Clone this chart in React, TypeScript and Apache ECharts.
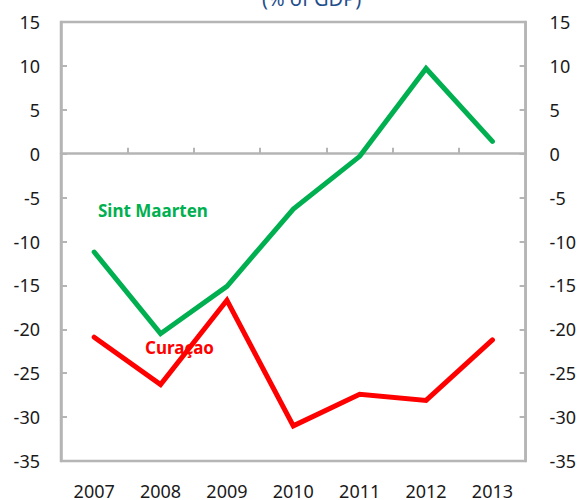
import React, { useEffect, useRef } from "react";
import * as echarts from "echarts";

const years = ["2007", "2008", "2009", "2010", "2011", "2012", "2013"];
const sintMaarten = [-11.2, -20.5, -15.1, -6.3, -0.3, 9.7, 1.4];
const curacao = [-20.9, -26.3, -16.7, -31.0, -27.4, -28.1, -21.2];
const yMin = -35;
const yMax = 15;
const yStep = 5;

const FONT = "'Noto Sans', 'Open Sans', sans-serif";
const GRAY = "#b5b5b5";

export default function App() {
  const ref = useRef<HTMLDivElement>(null);
  useEffect(() => {
    if (!ref.current) return;
    const chart = echarts.init(ref.current, undefined, { renderer: "svg" });
    const yAxisCommon = {
      type: "value",
      min: yMin,
      max: yMax,
      interval: yStep,
      axisLine: { show: true, lineStyle: { color: GRAY, width: 2.5 } },
      axisTick: { show: true, inside: true, length: 6, lineStyle: { color: GRAY, width: 2 } },
      splitLine: { show: false },
      axisLabel: { color: "#1a1a1a", fontSize: 18, fontFamily: FONT },
    };
    chart.setOption({
      animation: false,
      textStyle: { fontFamily: FONT },
      grid: {
        left: 61,
        right: 50,
        top: 22,
        bottom: 37,
        show: true,
        borderColor: GRAY,
        borderWidth: 2.5,
        backgroundColor: "transparent",
      },
      xAxis: [
        {
          type: "category",
          data: years,
          boundaryGap: true,
          axisLine: { show: true, onZero: true, lineStyle: { color: GRAY, width: 2.5 } },
          axisTick: { show: true, inside: true, length: 6, interval: 0, lineStyle: { color: GRAY, width: 2 } },
          axisLabel: { show: false },
          splitLine: { show: false },
        },
        {
          type: "category",
          data: years,
          position: "bottom",
          boundaryGap: true,
          axisLine: { show: false, onZero: false },
          axisTick: { show: false },
          axisLabel: { show: true, interval: 0, margin: 21, color: "#1a1a1a", fontSize: 18, fontFamily: FONT },
          splitLine: { show: false },
        },
      ],
      yAxis: [
        { ...yAxisCommon, position: "left", axisLabel: { ...yAxisCommon.axisLabel, margin: 21 } },
        { ...yAxisCommon, position: "right", axisLabel: { ...yAxisCommon.axisLabel, margin: 24 } },
      ],
      series: [
        {
          name: "Sint Maarten",
          type: "line",
          data: sintMaarten,
          xAxisIndex: 0,
          yAxisIndex: 0,
          symbol: "none",
          lineStyle: { color: "#00b050", width: 5, cap: "round", join: "miter" },
          itemStyle: { color: "#00b050" },
        },
        {
          name: "Curaçao",
          type: "line",
          data: curacao,
          xAxisIndex: 0,
          yAxisIndex: 0,
          symbol: "none",
          lineStyle: { color: "#ff0000", width: 5, cap: "round", join: "miter" },
          itemStyle: { color: "#ff0000" },
        },
      ],
      graphic: [
        {
          type: "text",
          left: 262,
          top: -12,
          style: { text: "(% of GDP)", fill: "#1f4e8c", font: `20px ${FONT}` },
        },
        {
          type: "text",
          left: 98,
          top: 202,
          style: { text: "Sint Maarten", fill: "#00b050", font: `bold 17px ${FONT}` },
        },
        {
          type: "text",
          left: 145,
          top: 339,
          z: 10,
          style: { text: "Curaçao", fill: "#ff0000", font: `bold 17px ${FONT}` },
        },
      ],
    });
    return () => chart.dispose();
  }, []);
  return <div ref={ref} style={{ width: 579, height: 500, position: "absolute", left: 0, top: 0 }} />;
}
